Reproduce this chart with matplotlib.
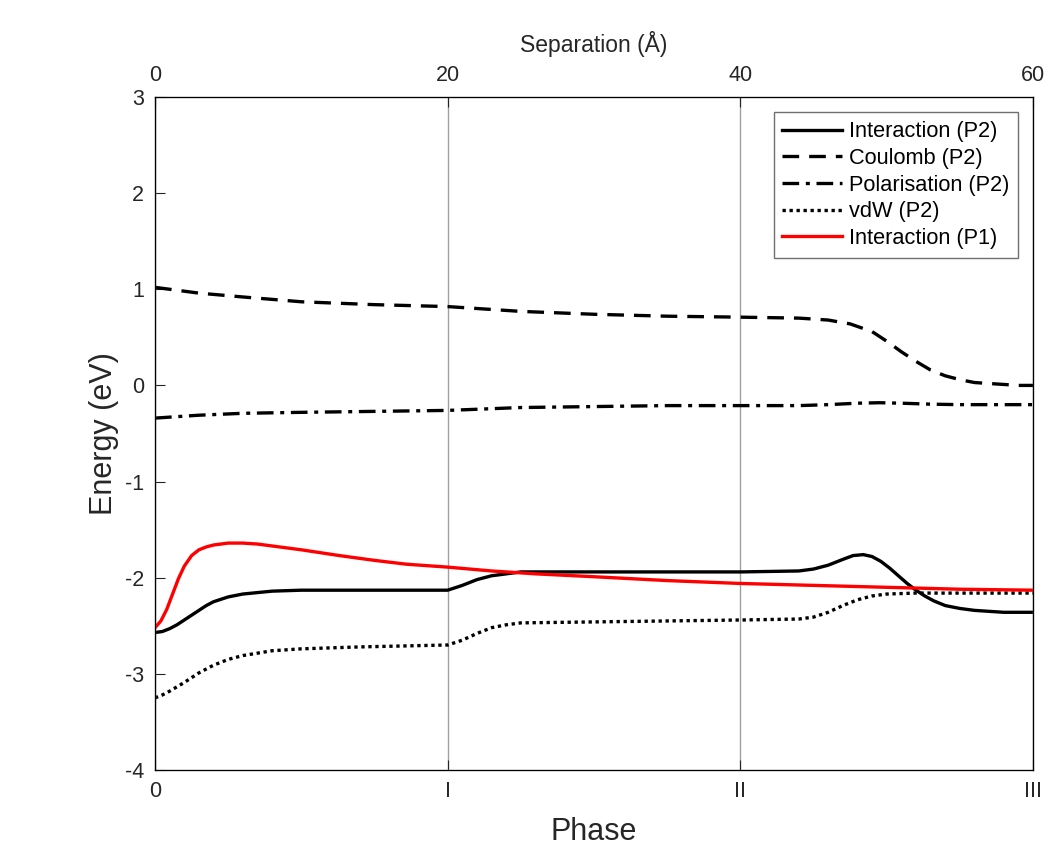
import numpy as np
import matplotlib.pyplot as plt

plt.rcParams['font.family'] = ['Liberation Sans', 'DejaVu Sans']
plt.rcParams['axes.unicode_minus'] = False

# separation (Angstrom) and energy components (eV) for P2
sep_coul = [0, 3, 6, 10, 15, 20, 25, 30, 35, 40, 44, 46, 47.5, 49, 50, 51, 52, 53, 54, 55, 56, 57, 58, 59, 60]
coulomb = [1.02, 0.96, 0.92, 0.87, 0.84, 0.82, 0.77, 0.74, 0.72, 0.71, 0.70, 0.68, 0.64, 0.56, 0.46, 0.35, 0.25, 0.16, 0.10, 0.06, 0.03, 0.02, 0.01, 0.0, 0.0]

sep_pol = [0, 3, 6, 10, 15, 20, 25, 30, 35, 40, 44, 46, 48, 49.5, 51, 53, 55, 60]
polar = [-0.34, -0.31, -0.29, -0.28, -0.27, -0.26, -0.23, -0.22, -0.21, -0.21, -0.21, -0.20, -0.185, -0.18, -0.185, -0.195, -0.20, -0.20]

sep_int2 = [0, 0.5, 1, 1.5, 2, 2.5, 3, 3.5, 4, 5, 6, 8, 10, 14, 20, 21, 22, 23, 24, 25, 30, 35, 40, 44, 45, 46, 47, 47.7, 48.4, 49, 49.6, 50.2, 50.8, 51.4, 52, 52.6, 53.2, 54, 55, 56, 58, 60]
inter2 = [-2.57, -2.56, -2.53, -2.49, -2.44, -2.39, -2.34, -2.29, -2.25, -2.20, -2.17, -2.14, -2.13, -2.13, -2.13, -2.08, -2.02, -1.98, -1.96, -1.94, -1.94, -1.94, -1.94, -1.93, -1.91, -1.87, -1.81, -1.77, -1.76, -1.78, -1.83, -1.90, -1.98, -2.06, -2.13, -2.19, -2.24, -2.29, -2.32, -2.34, -2.36, -2.36]

sep_vdw = [0, 0.5, 1, 2, 3, 4, 5, 6, 8, 10, 14, 20, 21, 22, 23, 24, 25, 30, 35, 40, 44, 45, 46, 47, 48, 49, 50, 52, 55, 60]
vdw = [-3.25, -3.22, -3.18, -3.09, -2.99, -2.91, -2.85, -2.81, -2.76, -2.74, -2.72, -2.70, -2.65, -2.58, -2.52, -2.49, -2.47, -2.46, -2.45, -2.44, -2.43, -2.41, -2.36, -2.29, -2.23, -2.19, -2.17, -2.16, -2.16, -2.16]

# total interaction energy for P1
sep_int1 = [0, 0.4, 0.8, 1.2, 1.6, 2, 2.5, 3, 3.5, 4, 5, 6, 7, 8, 10, 12.6, 15, 17.2, 20, 23, 26, 30, 35, 40, 45, 50, 55, 60]
inter1 = [-2.52, -2.45, -2.33, -2.17, -2.01, -1.88, -1.77, -1.71, -1.68, -1.66, -1.64, -1.64, -1.65, -1.67, -1.71, -1.77, -1.82, -1.86, -1.89, -1.93, -1.96, -1.99, -2.03, -2.06, -2.08, -2.10, -2.12, -2.13]

phase_pos = [0, 20, 40, 60]
phase_labels = ['0', 'I', 'II', 'III']

fig = plt.figure(figsize=(10.51, 8.63), dpi=100)
ax = fig.add_axes([0.1475, 0.1078, 0.8354, 0.7798])

lw = 2.4
ax.plot(sep_int2, inter2, color='black', lw=lw, label='Interaction (P2)')
ax.plot(sep_coul, coulomb, color='black', lw=lw, dashes=(5, 3), label='Coulomb (P2)')
ax.plot(sep_pol, polar, color='black', lw=lw, dashes=(5, 2, 1.2, 2), label='Polarisation (P2)')
ax.plot(sep_vdw, vdw, color='black', lw=lw, dashes=(1, 1.1), label='vdW (P2)')
ax.plot(sep_int1, inter1, color='red', lw=lw, label='Interaction (P1)')

ax.set_xlim(0, 60)
ax.set_ylim(-4, 3)
ax.set_xticks(phase_pos)
ax.set_xticklabels(phase_labels)
ax.set_yticks(range(-4, 4))
ax.xaxis.grid(True, color='#a0a0a0', lw=1)
ax.set_xlabel('Phase', fontsize=22, color='#262626', labelpad=11)
ax.set_ylabel('Energy (eV)', fontsize=22, color='#262626', labelpad=4)
ax.tick_params(direction='in', length=7, labelsize=15.5, colors='#262626', pad=8)
ax.tick_params(axis='y', right=False)
for s in ax.spines.values():
    s.set_color('#707070')
    s.set_linewidth(1.0)

top = ax.twiny()
top.set_xlim(0, 60)
top.set_xticks([0, 20, 40, 60])
top.set_xlabel('Separation (Å)', fontsize=16.5, color='#262626', labelpad=9)
top.tick_params(direction='in', length=7, labelsize=15.5, colors='#262626', pad=8)

leg = ax.legend(loc='upper right', bbox_to_anchor=(0.983, 0.977), fontsize=15.7,
                handlelength=2.75, handletextpad=0.3, labelspacing=0.26,
                borderpad=0.4, borderaxespad=0.0, fancybox=False, framealpha=1,
                edgecolor='#707070')
leg.get_frame().set_linewidth(1.0)

plt.savefig('out.png', dpi=100)
